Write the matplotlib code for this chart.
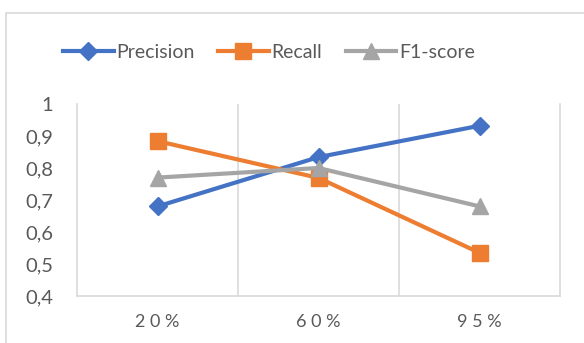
import matplotlib.pyplot as plt
import numpy as np
from matplotlib.patches import Rectangle

categories = ['20%', '60%', '95%']
precision = [0.68, 0.834, 0.932]
recall = [0.884, 0.769, 0.535]
f1_score = [0.77, 0.80, 0.68]

W, H = 584, 343
fig = plt.figure(figsize=(W / 100, H / 100), dpi=100)
plt.rcParams['font.family'] = ['Lato', 'DejaVu Sans']
txt = '#595959'
grid = '#d9d9d9'

# chart frame (cut off at right and bottom)
fig.patches.append(Rectangle((6 / W, -0.1), 1.2, 1 - 13 / H + 0.1,
                             transform=fig.transFigure, fill=False,
                             edgecolor=grid, linewidth=1.2))

ax = fig.add_axes([77 / W, 1 - 296 / H, (560 - 77) / W, (296 - 104) / H])
x = np.arange(len(categories))
ax.plot(x, precision, '-D', color='#4472c4', lw=3, ms=9, label='Precision')
ax.plot(x, recall, '-s', color='#ed7d31', lw=3, ms=11, label='Recall')
ax.plot(x, f1_score, '-^', color='#a5a5a5', lw=3, ms=12, label='F1-score')

ax.set_xlim(-0.5, 2.5)
ax.set_ylim(0.4, 1.0)
for b in [0.5, 1.5]:
    ax.axvline(b, color=grid, lw=1.2, zorder=0)
ax.spines['top'].set_visible(False)
for s in ['left', 'right', 'bottom']:
    ax.spines[s].set_color(grid)
    ax.spines[s].set_linewidth(1.2)

ax.set_xticks(x)
ax.set_xticklabels([' '.join(c) for c in categories], fontsize=13, color=txt)
yt = np.arange(0.4, 1.01, 0.1)
ax.set_yticks(yt)
ax.set_yticklabels([('%.1f' % v).replace('.', ',') if v < 0.99 else '1' for v in yt],
                   fontsize=14.5, color=txt)
ax.tick_params(length=0)
ax.tick_params(axis='y', pad=17)
ax.tick_params(axis='x', pad=13)

ax.legend(loc='center', bbox_to_anchor=(269 / W, 1 - 52 / H),
          bbox_transform=fig.transFigure, ncol=3, frameon=False,
          fontsize=14, labelcolor=txt, handlelength=2.6, handletextpad=0.15,
          columnspacing=1.2, borderpad=0, borderaxespad=0)

fig.savefig('out.png', dpi=100)
